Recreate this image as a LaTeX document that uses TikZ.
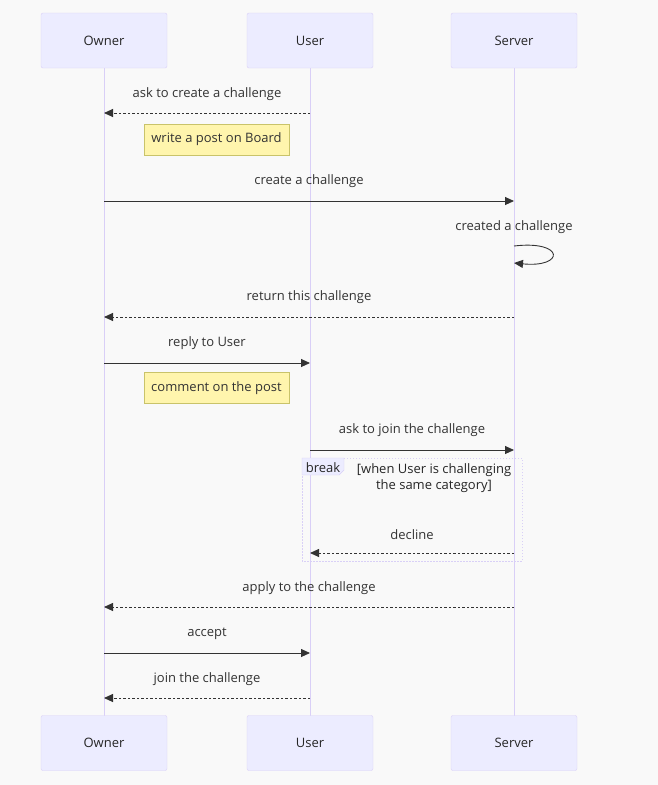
\documentclass[tikz,border=0pt]{standalone}
\usepackage{fontspec}
\setmainfont{Open Sans}
\usetikzlibrary{arrows.meta}
\definecolor{bg}{HTML}{F9F9F9}
\definecolor{actfill}{HTML}{ECECFF}
\definecolor{actline}{HTML}{D9D0F7}
\definecolor{lifeline}{HTML}{D9CFF7}
\definecolor{notefill}{HTML}{FFF5AD}
\definecolor{noteline}{HTML}{C9C36A}
\definecolor{ink}{HTML}{333333}
\tikzset{
  actor/.style={draw=actline, fill=actfill, rounded corners=2pt, minimum width=126pt, minimum height=55pt, inner sep=0pt, font=\fontsize{13}{15}\selectfont, text=black!85},
  life/.style={draw=lifeline, line width=1pt},
  msg/.style={draw=ink, line width=0.9pt, -{Triangle[length=9pt,width=8pt]}},
  rmsg/.style={msg, dash pattern=on 2.5pt off 2pt},
  lbl/.style={font=\fontsize{13}{16}\selectfont, text=ink, inner sep=0pt},
  note/.style={draw=noteline, fill=notefill, minimum width=145pt, minimum height=31pt, inner sep=0pt, font=\fontsize{13}{15}\selectfont, text=ink},
}
\begin{document}
\begin{tikzpicture}[x=1pt,y=-1pt]
\fill[bg] (0,0) rectangle (658,785);
\useasboundingbox (0,0) rectangle (658,785);
% lifelines
\draw[life] (104,68) -- (104,716);
\draw[life] (310,68) -- (310,716);
\draw[life] (514,68) -- (514,716);
% actors
\node[actor] (ot) at (104,40.5) {Owner};
\node[actor] (ut) at (310,40.5) {User};
\node[actor] (st) at (514,40.5) {Server};
\node[actor] (ob) at (104,743) {Owner};
\node[actor] (ub) at (310,743) {User};
\node[actor] (sb) at (514,743) {Server};
% message coordinates
\foreach \n/\y in {1/113,2/201,3/317,4/363,5/450,6/553,7/607,8/653,9/698}{
  \coordinate (o\n) at (104,\y);
  \coordinate (u\n) at (310,\y);
  \coordinate (s\n) at (514,\y);
}
% 1
\node[lbl] (l1) at (207,94.5) {ask to create a challenge};
\draw[rmsg] (u1) -- (o1);
\node[note] (n1) at (216.5,139.5) {write a post on Board};
% 2
\node[lbl] (l2) at (309,181.5) {create a challenge};
\draw[msg] (o2) -- (s2);
% self
\node[lbl] (l3s) at (514,227.5) {created a challenge};
\coordinate (sa) at (514,246);
\coordinate (sz) at (514,263);
\draw[msg] (sa) .. controls (565,240) and (565,268) .. (sz);
% 3
\node[lbl] (l3) at (309,297.5) {return this challenge};
\draw[rmsg] (s3) -- (o3);
% 4
\node[lbl] (l4) at (207,343.5) {reply to User};
\draw[msg] (o4) -- (u4);
\node[note] (n2) at (216.5,388) {comment on the post};
% 5
\node[lbl] (l5) at (412,430.5) {ask to join the challenge};
\draw[msg] (u5) -- (s5);
% break box
\draw[draw=actline, line width=0.8pt, dash pattern=on 1.5pt off 1.5pt] (302,458) rectangle (522,561);
\filldraw[draw=actline, fill=actfill] (302,458) -- (344,458) -- (344,470) -- (339,475) -- (302,475) -- cycle;
\node[lbl, text=black!85] (bk) at (323,468) {break};
\node[lbl, align=center, text=black!85] (cond) at (434,478) {[when User is challenging\\the same category]};
% 6
\node[lbl] (l6) at (412,534.5) {decline};
\draw[rmsg] (s6) -- (u6);
% 7
\node[lbl] (l7) at (309,588.5) {apply to the challenge};
\draw[rmsg] (s7) -- (o7);
% 8
\node[lbl] (l8) at (207,633.5) {accept};
\draw[msg] (o8) -- (u8);
% 9
\node[lbl] (l9) at (207,679.5) {join the challenge};
\draw[rmsg] (u9) -- (o9);
\end{tikzpicture}
\end{document}
